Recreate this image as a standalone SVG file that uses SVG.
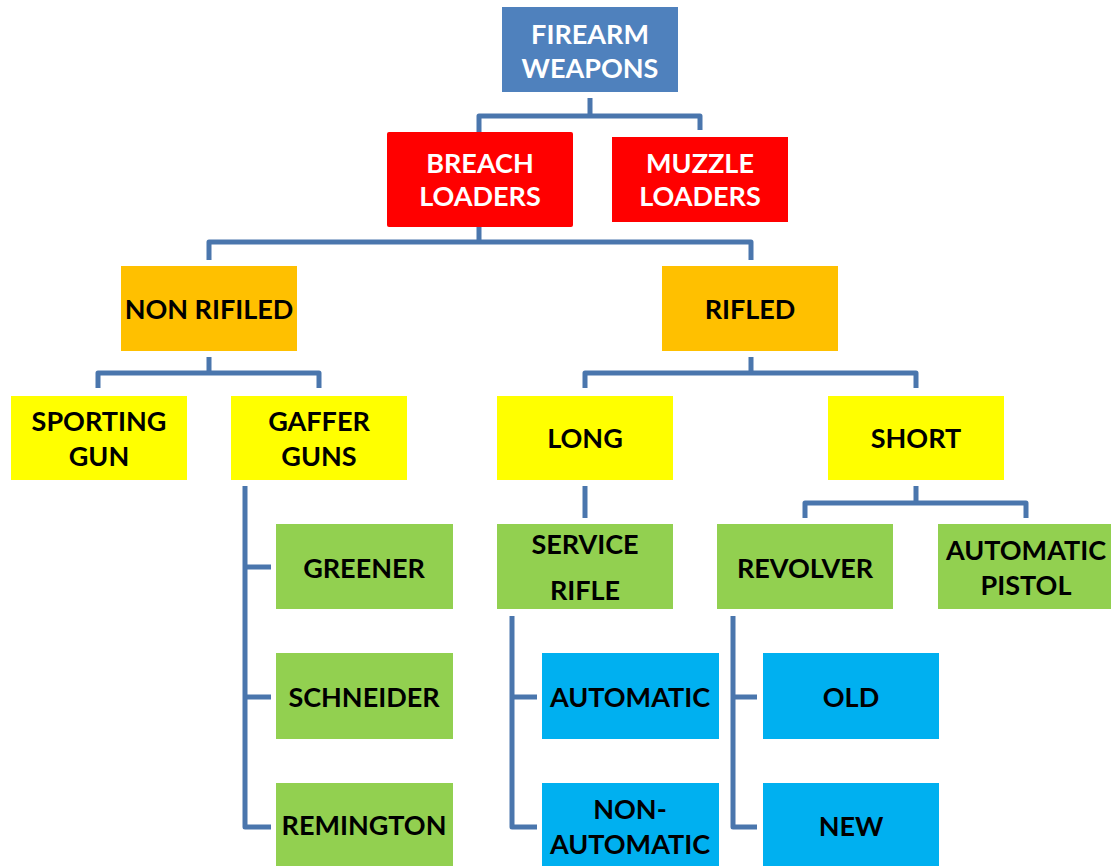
<svg xmlns="http://www.w3.org/2000/svg" width="1111" height="866" viewBox="0 0 1111 866">
<style>
.lbl{font-family:Lato,"Liberation Sans",sans-serif;font-weight:bold;font-size:27px;text-anchor:middle;fill:#000}
.w{fill:#fff}
.c{fill:none;stroke:#4A76AD;stroke-width:5;stroke-linejoin:round;stroke-linecap:butt}
.blue{fill:#4F81BD}.red{fill:#FF0000}.org{fill:#FFC000}.yel{fill:#FFFF00}.grn{fill:#92D050}.cy{fill:#00B0F0}
</style>
<rect width="1111" height="866" fill="#fff"/>
<g id="connectors">
<path class="c" d="M590 98V116M479 132V116H700V130"/>
<path class="c" d="M479 227V242M209 260V242H751V260"/>
<path class="c" d="M209 357V373M98 388V373H319V388"/>
<path class="c" d="M751 357V373M585 388V373H916V388"/>
<path class="c" d="M245 486V827H271M245 567H271M245 697H271"/>
<path class="c" d="M585 486V518"/>
<path class="c" d="M512 616V827H537M512 697H537"/>
<path class="c" d="M916 486V503M805 518V503H1026V518"/>
<path class="c" d="M733 616V827H757M733 697H757"/>
</g>
<g id="firearm"><rect class="blue" x="502" y="7" width="176" height="85"/><text class="lbl w" x="590" y="44">FIREARM</text><text class="lbl w" x="590" y="78">WEAPONS</text></g>
<g id="breach"><rect class="red" x="387" y="132" width="186" height="95" rx="2"/><text class="lbl w" x="480" y="173">BREACH</text><text class="lbl w" x="480" y="206">LOADERS</text></g>
<g id="muzzle"><rect class="red" x="612" y="137" width="176" height="85"/><text class="lbl w" x="700" y="173">MUZZLE</text><text class="lbl w" x="700" y="206">LOADERS</text></g>
<g id="nonrifiled"><rect class="org" x="121" y="266" width="176" height="85"/><text class="lbl" x="209" y="319">NON RIFILED</text></g>
<g id="rifled"><rect class="org" x="662" y="266" width="176" height="85"/><text class="lbl" x="750" y="319">RIFLED</text></g>
<g id="sporting"><rect class="yel" x="11" y="396" width="176" height="84"/><text class="lbl" x="99" y="431">SPORTING</text><text class="lbl" x="99" y="466">GUN</text></g>
<g id="gaffer"><rect class="yel" x="231" y="396" width="176" height="84"/><text class="lbl" x="319" y="431">GAFFER</text><text class="lbl" x="319" y="466">GUNS</text></g>
<g id="long"><rect class="yel" x="497" y="396" width="176" height="84"/><text class="lbl" x="585" y="448">LONG</text></g>
<g id="short"><rect class="yel" x="828" y="396" width="176" height="84"/><text class="lbl" x="916" y="448">SHORT</text></g>
<g id="greener"><rect class="grn" x="276" y="524" width="177" height="85"/><text class="lbl" x="364" y="578">GREENER</text></g>
<g id="schneider"><rect class="grn" x="276" y="653" width="177" height="86"/><text class="lbl" x="364" y="707">SCHNEIDER</text></g>
<g id="remington"><rect class="grn" x="276" y="783" width="177" height="85"/><text class="lbl" x="364" y="835">REMINGTON</text></g>
<g id="service"><rect class="grn" x="497" y="524" width="176" height="85"/><text class="lbl" x="585" y="554">SERVICE</text><text class="lbl" x="585" y="600">RIFLE</text></g>
<g id="automatic"><rect class="cy" x="542" y="653" width="177" height="86"/><text class="lbl" x="630" y="707">AUTOMATIC</text></g>
<g id="nonautomatic"><rect class="cy" x="542" y="783" width="177" height="85"/><text class="lbl" x="630" y="819">NON-</text><text class="lbl" x="630" y="854">AUTOMATIC</text></g>
<g id="revolver"><rect class="grn" x="717" y="524" width="176" height="85"/><text class="lbl" x="805" y="578">REVOLVER</text></g>
<g id="autopistol"><rect class="grn" x="938" y="524" width="173" height="85"/><text class="lbl" x="1026" y="560">AUTOMATIC</text><text class="lbl" x="1026" y="595">PISTOL</text></g>
<g id="old"><rect class="cy" x="763" y="653" width="176" height="86"/><text class="lbl" x="851" y="707">OLD</text></g>
<g id="new"><rect class="cy" x="763" y="783" width="176" height="85"/><text class="lbl" x="851" y="836">NEW</text></g>
</svg>
